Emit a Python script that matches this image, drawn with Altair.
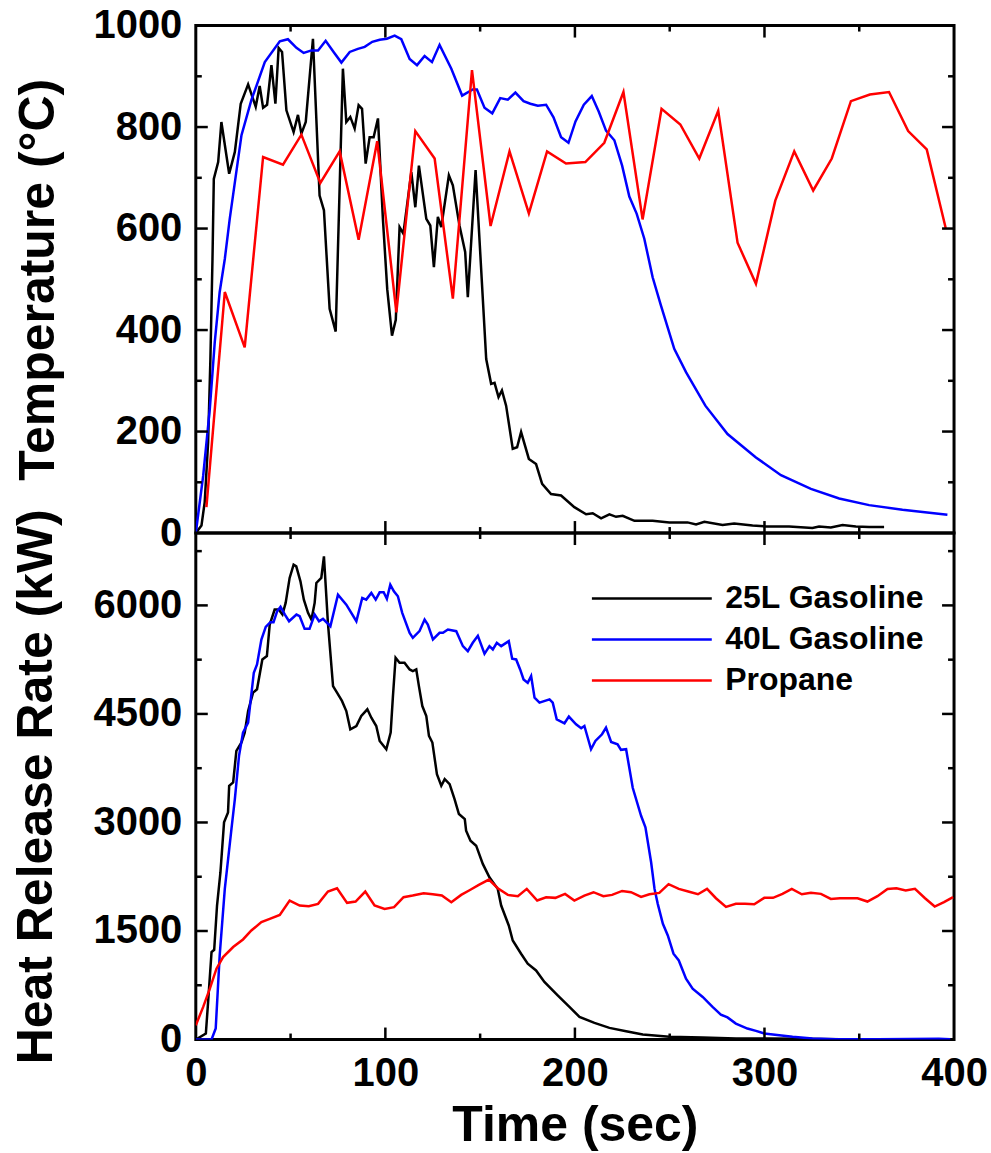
import altair as alt
import pandas as pd

# ---------------- data ----------------
SERIES = ["25L Gasoline", "40L Gasoline", "Propane"]
COLORS = ["#000000", "#0000ff", "#ff0000"]

# Temperature panel
t_temp_25 = [0, 3, 4.7, 6.5, 7.7, 8.8, 9.5, 11.8, 13.5, 17.6, 20.6, 23.7, 27.6, 31.6, 33.7, 35.5, 37.6, 39.9,
             42.0, 43.7, 45.5, 47.8, 51.6, 53.9, 55.7, 58.0, 61.8, 65.3, 67.6, 70.6, 73.8, 77.6, 79.4, 81.5,
             83.8, 85.9, 87.7, 89.6, 91.7, 93.8, 96.1, 98.7, 101.0, 103.5, 105.5, 107.5, 109.5, 113.7, 115.8,
             117.7, 121.6, 123.7, 125.6, 127.7, 129.5, 133.5, 135.6, 139.1, 142.1, 143.5, 147.6, 153.2, 155.8,
             157.6, 159.7, 161.5, 163.7, 167.2, 169.5, 171.6, 175.7, 179.5, 182.7, 187.4, 192.7, 199.7, 205.9,
             209.4, 213.8, 218.2, 221.7, 225.2, 231.4, 241, 249.8, 259.4, 263.9, 268.3, 277.9, 284, 293.7,
             300.7, 313, 325.3, 328.8, 335, 341.2, 348.2, 355.2, 363.1]
v_temp_25 = [0, 15, 61, 179, 343, 540, 698, 731, 810, 708, 751, 846, 884, 840, 881, 838, 844, 922,
             846, 956, 948, 833, 790, 824, 787, 810, 974, 665, 636, 442, 397, 915, 810, 820,
             797, 843, 836, 728, 780, 780, 817, 619, 480, 389, 420, 603, 590, 711, 642,
             724, 619, 606, 524, 623, 603, 705, 685, 606, 554, 465, 715, 343, 294,
             296, 268, 281, 251, 166, 169, 199, 146, 136, 97, 77, 74, 51, 37,
             39, 29, 37, 32, 34, 24, 24, 21, 21, 17, 22, 16, 19, 15,
             13, 13, 10, 13, 11, 16, 13, 12, 12]

t_temp_40 = [0, 3.9, 7.4, 10, 12.6, 15.3, 17.9, 24.1, 29.3, 36.4, 44.3, 48.6, 53.1, 56.9, 61, 64.5, 68.5,
             72.7, 76.8, 81.2, 85.5, 89.1, 93.1, 97, 100.8, 104.9, 108.4, 112.8, 116.7, 120.7, 124.6, 128.6,
             134.8, 140.5, 146.1, 148.3, 152.3, 156.4, 160.6, 164.6, 168.6, 172.9, 176.5, 180.4, 184.8, 188.7,
             192.7, 196.6, 200.3, 204.7, 208.9, 212.6, 216.4, 220.8, 224.9, 228.7, 232.6, 236.6, 241, 245.4,
             252.4, 258.6, 268.8, 280.5, 295.5, 308.7, 324.5, 339.4, 355.2, 372.8, 396.5]
v_temp_40 = [0, 113, 245, 376, 475, 540, 619, 784, 853, 928, 969, 973, 956, 946, 951, 951, 970,
             948, 927, 948, 954, 958, 968, 972, 974, 980, 973, 934, 922, 940, 928, 962,
             915, 862, 874, 874, 838, 827, 857, 854, 868, 851, 846, 842, 844, 819,
             780, 769, 811, 844, 861, 830, 793, 774, 724, 663, 629, 580, 504, 448,
             363, 317, 251, 195, 149, 114, 87, 68, 55, 46, 36]

t_temp_pr = [5.6, 15.3, 25.8, 35.5, 46, 55.7, 65.7, 75.9, 85.9, 95.7, 105.8, 115.8, 126, 135.6, 145.7,
             155.5, 165.5, 175.7, 185.3, 195.3, 205.5, 215.5, 225.6, 235.7, 245.7, 255.6, 265.6, 275.6,
             285.8, 295.5, 305.7, 315.7, 325.7, 335.5, 345.6, 355.6, 365.7, 375.8, 385.6, 395.6]
v_temp_pr = [51, 475, 366, 741, 726, 785, 690, 752, 578, 772, 435, 792, 738, 462, 912,
             605, 752, 630, 752, 728, 731, 769, 869, 618, 836, 805, 738, 832,
             572, 491, 655, 752, 675, 738, 851, 864, 869, 792, 756, 601]

# Heat release rate panel
t_hrr_25 = [0, 5.3, 6.5, 8.3, 9.7, 11.2, 13, 14.9, 17, 17.6, 19.7, 21.4, 24.1, 25.8, 27.6, 30.2, 32.3, 35.1,
            37.5, 39, 41.6, 43.7, 45.7, 47.4, 49.5, 51.6, 53, 55.2, 57, 59.2, 61, 62.7, 63.6, 66.2, 67.6,
            69.7, 72.4, 74.5, 77.1, 79.4, 81.5, 84.7, 87.3, 90.5, 92.6, 95.2, 97, 100.5, 102.8, 104, 105.4,
            107.5, 110.1, 112.8, 114.5, 116.3, 117.7, 119.5, 121.6, 123, 124.8, 127.2, 129.5, 131.3, 133.9,
            136.5, 138.8, 141.9, 142.6, 144.9, 147.9, 151.4, 154.9, 159.3, 161.1, 165.1, 167.2, 171.6,
            175.1, 179.5, 183.9, 190.9, 197.1, 202.4, 210.3, 218.2, 227, 235.8, 249.8, 267.4, 285, 302.5,
            320, 340]
v_hrr_25 = [0, 83, 520, 1209, 1240, 1852, 2312, 3001, 3139, 3507, 3553, 3989, 4105, 4242, 4540, 4794, 4841, 5253,
            5299, 5736, 5942, 5942, 5873, 6035, 6380, 6563, 6540, 6333, 6080, 5897, 5804, 6035, 6310, 6380, 6678,
            5759, 4885, 4794, 4680, 4540, 4288, 4333, 4471, 4564, 4448, 4333, 4127, 4012, 4242, 4747, 5276,
            5207, 5207, 5115, 5093, 5115, 4885, 4609, 4471, 4196, 4105, 3667, 3507, 3599, 3530,
            3323, 3116, 3047, 2886, 2748, 2679, 2427, 2243, 2082, 1852, 1576, 1369, 1186,
            1048, 955, 796, 611, 451, 313, 230, 161, 115, 69, 37, 28, 14, 14,
            10, 5]

t_hrr_40 = [0, 5, 8.3, 10.5, 12.6, 15.3, 18.8, 20.6, 22.8, 24.9, 27.6, 30.6, 32.3, 34.6, 36.9, 39.3, 41, 42.9,
            44.7, 47, 49.2, 53.1, 54.8, 57.4, 60, 62.7, 65, 67.1, 71, 75, 79.4, 84.7, 87.8, 89.9, 92.6, 94.9,
            97, 99.1, 100.8, 102.6, 104.5, 106.6, 108.9, 112.8, 114.5, 118, 120.7, 122.4, 125.1, 128.6, 130.4,
            133, 137.4, 140.9, 143.5, 146.1, 148.8, 152.3, 154.9, 156.7, 158.8, 161.1, 165.1, 166.9, 169,
            171.1, 172.9, 175.1, 176.9, 178.7, 181.3, 186.6, 188.3, 190.4, 194.5, 196.8, 200.6, 203.3, 205,
            208.5, 210.8, 214.3, 216.4, 219.1, 222.5, 224.3, 227, 230.5, 234.9, 237.2, 240.2, 242, 243.7,
            246.4, 249, 252, 254.8, 258.6, 262.1, 267.4, 272.6, 277, 280.5, 284.9, 291, 295.5, 299.9, 307.8,
            314.8, 325.3, 337.6, 360, 392, 398]
v_hrr_40 = [0, 0, 0, 152, 1162, 2082, 2909, 3323, 3920, 4242, 4380, 5070, 5184, 5529, 5704, 5768, 5768, 5919,
            5980, 5873, 5781, 5873, 5851, 5676, 5676, 5873, 5781, 5814, 5712, 6149, 6011, 5781, 6104, 6080, 6173, 6080,
            6181, 6181, 6090, 6287, 6195, 6126, 5897, 5621, 5552, 5644, 5805, 5736, 5529, 5621, 5621,
            5667, 5644, 5437, 5368, 5483, 5580, 5331, 5437, 5391, 5483, 5437, 5506, 5263, 5253,
            5115, 4977, 4931, 5023, 4725, 4656, 4701, 4656, 4426, 4371, 4463, 4357, 4302, 4333,
            4012, 4127, 4219, 4311, 4113, 4081, 4004, 4012, 3480, 3093, 2932, 2450, 2082, 1875,
            1599, 1438, 1186, 1093, 841, 703, 589, 451, 345, 305, 221, 152, 120, 83, 60,
            37, 14, 5, 5, 10, 5]

t_hrr_pr = [0, 3.9, 7.4, 10.9, 14.4, 19.7, 24.9, 29.3, 34.6, 39, 44.3, 49.5, 54.8, 59.6, 64.5, 69.7, 74.5, 79.8,
            84.3, 89.4, 94.3, 99.6, 104.6, 109.6, 114.4, 120.2, 125, 129.8, 134.8, 140, 144.4, 149.3, 154.6,
            159.3, 164.6, 169.9, 174.6, 180.1, 184.8, 189.7, 194.8, 199.7, 205, 209.8, 215, 219.6, 224.9,
            229.6, 234.9, 239.3, 244.5, 249.4, 254.8, 259.8, 264.9, 269.7, 274.4, 279.7, 284.9, 289.7, 294.6,
            299.9, 304.5, 309.5, 314.4, 319.7, 324.5, 329.8, 335, 339.8, 344.7, 349.1, 354.3, 359.6, 364.9,
            369.6, 374.5, 379.4, 384.7, 389.8, 394.7, 399.5]
v_hrr_pr = [197, 451, 703, 979, 1140, 1278, 1383, 1507, 1623, 1668, 1723, 1921, 1852, 1843, 1875, 2045, 2091, 1889,
            1907, 2045, 1852, 1806, 1829, 1967, 1990, 2022, 2008, 1990, 1898, 1999, 2063, 2137, 2210,
            2091, 1999, 1981, 2082, 1921, 1967, 1958, 2013, 1921, 1990, 2036, 1981, 1999, 2054,
            2036, 1972, 2008, 2027, 2147, 2082, 2045, 2008, 2082, 1953, 1834, 1875, 1875, 1870,
            1958, 1958, 2013, 2082, 2008, 2027, 2013, 1944, 1953, 1953, 1953, 1907, 1981, 2082,
            2091, 2059, 2082, 1953, 1838, 1898, 1967]

# axes / ticks
x_labels = [0, 100, 200, 300, 400]
x_major = [100, 200, 300]
x_minor = [50, 150, 250, 350]
temp_labels = [0, 200, 400, 600, 800, 1000]
temp_major = [200, 400, 600, 800]
temp_minor = [100, 300, 500, 700, 900]
hrr_labels = [0, 1500, 3000, 4500, 6000]
hrr_major = [1500, 3000, 4500, 6000]
hrr_minor = [750, 2250, 3750, 5250, 6750]

# ---------------- style ----------------
FONT = "Liberation Sans"
W, H1, H2 = 759, 508, 507
MAJ, MIN = 12, 6
TW = 2.5


def long_df(parts):
    rows = []
    for name, ts, vs in parts:
        for i, (t, v) in enumerate(zip(ts, vs)):
            rows.append({"series": name, "time": t, "value": v, "idx": i})
    return pd.DataFrame(rows)


temp_df = long_df([(SERIES[0], t_temp_25, v_temp_25), (SERIES[1], t_temp_40, v_temp_40),
                   (SERIES[2], t_temp_pr, v_temp_pr)])
hrr_df = long_df([(SERIES[0], t_hrr_25, v_hrr_25), (SERIES[1], t_hrr_40, v_hrr_40),
                  (SERIES[2], t_hrr_pr, v_hrr_pr)])

xs = alt.Scale(domain=[0, 400], nice=False, zero=False)
cs = alt.Scale(domain=SERIES, range=COLORS)
ys_t = alt.Scale(domain=[0, 1000], nice=False, zero=False)
ys_h = alt.Scale(domain=[0, 7000], nice=False, zero=False)

common_axis = dict(ticks=False, tickSize=0, domain=False, grid=False, labelFlush=False, format="d",
                   labelFont=FONT, labelFontSize=40, labelFontWeight="bold", labelColor="black",
                   titleFont=FONT, titleFontSize=50, titleFontWeight="bold", titleColor="black")

x_axis_top = alt.Axis(labels=False, title=None, **common_axis)
x_axis_bot = alt.Axis(values=x_labels, title="Time (sec)", labelPadding=14, titlePadding=7, **common_axis)
y_axis_top = alt.Axis(values=temp_labels, title="Temperature (°C)", labelPadding=14, titlePadding=29,
                      **common_axis)
y_axis_bot = alt.Axis(values=hrr_labels, title="Heat Release Rate (kW)", labelPadding=14, titlePadding=31,
                      **common_axis)

# long horizontal stroke as a legend symbol (path in the unit box, stretched 3x horizontally)
legend = alt.Legend(title=None, orient="none", legendX=435, legendY=552,
                    symbolType="M-3,0H3", symbolSize=1600, symbolStrokeWidth=2.5,
                    symbolFillColor="transparent",
                    labelFont=FONT, labelFontSize=32, labelFontWeight="bold", labelLimit=0,
                    labelColor="black", labelOffset=52, rowPadding=3, padding=0)


def tick_layers(ys, ymaj, ymin, h, xa, ya):
    layers = []
    for vals, L in ((ymaj, MAJ), (ymin, MIN)):
        base = alt.Chart(pd.DataFrame({"v": vals})).mark_rule(color="black", strokeWidth=TW)
        layers.append(base.encode(y=alt.Y("v:Q", scale=ys, axis=ya), x=alt.value(0), x2=alt.value(L)))
        layers.append(base.encode(y=alt.Y("v:Q", scale=ys, axis=ya), x=alt.value(W - L), x2=alt.value(W)))
    for vals, L in ((x_major, MAJ), (x_minor, MIN)):
        base = alt.Chart(pd.DataFrame({"v": vals})).mark_rule(color="black", strokeWidth=TW)
        layers.append(base.encode(x=alt.X("v:Q", scale=xs, axis=xa), y=alt.value(0), y2=alt.value(L)))
        layers.append(base.encode(x=alt.X("v:Q", scale=xs, axis=xa), y=alt.value(h - L), y2=alt.value(h)))
    return layers


def panel(df, ys, xa, ya, ymaj, ymin, h):
    lines = alt.Chart(df).mark_line(strokeWidth=2.5, clip=True).encode(
        x=alt.X("time:Q", scale=xs, axis=xa),
        y=alt.Y("value:Q", scale=ys, axis=ya),
        color=alt.Color("series:N", scale=cs, legend=legend),
        order=alt.Order("idx:Q"),
    )
    return alt.layer(lines, *tick_layers(ys, ymaj, ymin, h, xa, ya)).properties(width=W, height=h)


top = panel(temp_df, ys_t, x_axis_top, y_axis_top, temp_major, temp_minor, H1)
bottom = panel(hrr_df, ys_h, x_axis_bot, y_axis_bot, hrr_major, hrr_minor, H2)

chart = alt.vconcat(top, bottom, spacing=0, bounds="flush").properties(
    padding={"left": 10, "top": 3, "right": 2, "bottom": 0}, background="white"
).configure_view(stroke="black", strokeWidth=3)

chart.save("out.html", embed_options={"renderer": "svg", "actions": False})
